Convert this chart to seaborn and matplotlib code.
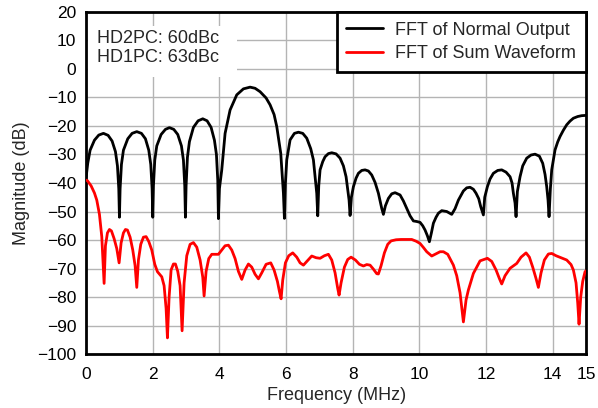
import seaborn as sns
import matplotlib.pyplot as plt
import pandas as pd
from matplotlib.patches import Rectangle

# ---------- DATA ----------
normal_freq = [0.00, 0.05, 0.12, 0.25, 0.38, 0.52, 0.66, 0.78, 0.88, 0.94, 0.98, 1.00,
               1.02, 1.06, 1.12, 1.25, 1.38, 1.52, 1.66, 1.78, 1.88, 1.94, 1.98, 2.00,
               2.02, 2.06, 2.12, 2.25, 2.38, 2.50, 2.63, 2.75, 2.86, 2.92, 2.96, 2.98,
               3.00, 3.04, 3.10, 3.22, 3.36, 3.50, 3.63, 3.75, 3.85, 3.91, 3.95, 3.97,
               4.00, 4.07, 4.17, 4.32, 4.52, 4.72, 4.92, 5.07, 5.22, 5.40, 5.52, 5.64,
               5.72, 5.84, 5.92, 5.95,
               5.98, 6.02, 6.12, 6.25, 6.37, 6.50, 6.62, 6.74, 6.82, 6.92, 6.95,
               6.98, 7.02, 7.10, 7.17, 7.27, 7.37, 7.50, 7.62, 7.72, 7.80, 7.89, 7.92,
               7.96, 8.02, 8.10, 8.17, 8.27, 8.37, 8.47, 8.57, 8.67, 8.77, 8.87, 8.92,
               8.98, 9.07, 9.17, 9.27, 9.42, 9.52, 9.62, 9.72, 9.82,
               9.92, 10.02, 10.10, 10.17, 10.24, 10.30, 10.36, 10.42, 10.50, 10.57,
               10.67, 10.82, 10.97, 11.07, 11.17, 11.32, 11.42, 11.52, 11.62, 11.70,
               11.78, 11.84, 11.92,
               11.96, 12.04, 12.12, 12.22, 12.35, 12.47, 12.60, 12.72, 12.78, 12.82, 12.87, 12.90,
               12.94, 13.02, 13.10, 13.22, 13.35, 13.47, 13.60, 13.70, 13.77, 13.82, 13.86, 13.89,
               13.93, 13.97, 14.07, 14.15, 14.22, 14.32, 14.42, 14.52, 14.62, 14.75, 14.87, 15.00]
normal_db = [-38.0, -33.0, -28.5, -25.0, -23.2, -22.6, -23.3, -25.3, -29.0, -34.0, -42.0, -52.0,
             -42.0, -33.5, -28.5, -24.5, -22.6, -22.0, -22.6, -24.5, -28.5, -33.5, -42.0, -52.0,
             -41.0, -32.0, -27.0, -23.0, -21.2, -20.6, -21.2, -23.0, -27.0, -32.0, -41.0, -52.0,
             -41.0, -31.0, -25.5, -20.5, -18.2, -17.5, -18.2, -20.5, -25.0, -30.0, -39.0, -52.5,
             -42.0, -35.4, -22.6, -14.4, -9.1, -7.0, -6.4, -6.8, -8.0, -10.2, -12.6, -16.0,
             -20.2, -29.6, -43.6, -52.4,
             -40.0, -31.9, -24.9, -22.6, -22.2, -22.6, -24.3, -28.0, -31.9, -43.6, -51.5,
             -41.0, -35.4, -32.5, -30.8, -29.7, -29.4, -29.8, -31.3, -34.0, -37.8, -46.0, -51.4,
             -45.0, -41.3, -38.3, -36.6, -35.6, -35.4, -35.8, -37.2, -39.8, -43.6, -48.9, -51.0,
             -48.0, -45.4, -43.8, -43.4, -44.2, -46.3, -48.9, -51.5, -53.3,
             -53.5, -53.8, -55.0, -56.5, -58.5, -60.6, -57.5, -54.1, -52.0, -50.6,
             -49.7, -50.0, -51.0, -49.0, -46.0, -42.8, -41.7, -41.5, -42.2, -43.6,
             -45.5, -48.3, -51.2,
             -45.0, -41.3, -38.6, -36.6, -35.6, -35.4, -36.2, -37.8, -40.0, -43.6, -47.0, -51.8,
             -43.0, -37.8, -34.0, -31.3, -30.2, -29.9, -30.6, -33.1, -37.0, -41.3, -46.0, -51.8,
             -42.0, -35.4, -28.4, -25.6, -23.7, -21.5, -19.6, -18.3, -17.3, -16.7, -16.4, -16.3]

sum_freq = [0.00, 0.04, 0.15, 0.25, 0.32, 0.40, 0.47, 0.54, 0.58, 0.64, 0.70, 0.76,
            0.84, 0.92, 0.99, 1.05, 1.12, 1.18, 1.24, 1.32, 1.40, 1.47, 1.52, 1.57,
            1.64, 1.72, 1.80, 1.88, 1.97, 2.06, 2.14, 2.27, 2.34, 2.40, 2.44, 2.49,
            2.55, 2.62, 2.68, 2.75, 2.82, 2.88, 2.94, 3.02, 3.12, 3.22, 3.32, 3.42,
            3.50, 3.54, 3.60, 3.68, 3.77, 3.87, 3.97, 4.07, 4.17, 4.27, 4.37, 4.47,
            4.57, 4.67, 4.77, 4.87, 4.97, 5.07, 5.17, 5.27, 5.40, 5.54, 5.64, 5.74,
            5.80, 5.85, 5.90, 5.98, 6.08, 6.20, 6.32, 6.42, 6.52, 6.62, 6.77, 6.90,
            7.02, 7.15, 7.27, 7.37, 7.47, 7.55, 7.59, 7.65, 7.75, 7.85, 7.95, 8.08,
            8.20, 8.32, 8.42, 8.52, 8.62, 8.72, 8.77, 8.85, 8.95, 9.05, 9.15, 9.30,
            9.45, 9.62, 9.77, 9.90, 10.02, 10.12, 10.22, 10.37, 10.50, 10.62, 10.72, 10.85,
            11.02, 11.12, 11.22, 11.32, 11.40, 11.47, 11.62, 11.82, 12.04, 12.17, 12.30, 12.40,
            12.47, 12.57, 12.72, 12.92, 13.05, 13.20, 13.30, 13.40, 13.50, 13.57, 13.65, 13.75,
            13.87, 13.97, 14.10, 14.25, 14.42, 14.55, 14.62, 14.70, 14.75, 14.79, 14.84, 14.90,
            14.97, 15.00]
sum_db = [-39.0, -39.2, -41.0, -43.5, -46.0, -51.0, -58.8, -75.2, -62.0, -57.5, -56.3, -56.8,
          -59.5, -63.0, -68.0, -61.0, -57.5, -56.3, -56.5, -59.0, -63.5, -69.0, -76.6, -67.0,
          -61.5, -59.0, -58.8, -60.5, -63.5, -68.5, -71.1, -72.9, -76.0, -84.0, -94.3, -80.0,
          -70.5, -68.4, -68.4, -71.0, -76.0, -91.8, -75.0, -65.5, -61.5, -60.9, -62.5, -67.0,
          -73.0, -79.6, -71.0, -66.5, -65.0, -65.0, -65.0, -63.5, -62.0, -61.8, -63.5, -66.5,
          -71.0, -73.8, -70.5, -68.4, -69.5, -72.0, -73.6, -71.5, -68.5, -68.0, -70.5, -74.5,
          -78.0, -80.6, -74.0, -68.0, -65.5, -64.5, -66.0, -68.0, -68.8, -67.5, -65.6, -66.2,
          -66.4, -65.5, -65.0, -67.0, -71.5, -77.0, -79.3, -75.0, -69.5, -66.8, -66.0, -67.0,
          -68.5, -69.1, -68.6, -68.8, -70.2, -71.8, -71.9, -69.0, -64.5, -61.5, -60.3, -59.9,
          -59.8, -59.8, -59.8, -60.4, -61.2, -62.6, -64.1, -65.6, -64.8, -64.1, -64.1, -65.0,
          -68.8, -72.5, -78.5, -88.7, -81.0, -77.5, -71.7, -67.3, -66.4, -67.5, -70.5, -73.5,
          -75.4, -72.5, -69.9, -68.2, -66.0, -64.5, -66.0, -69.5, -73.5, -76.6, -71.5, -67.0,
          -64.9, -64.7, -65.5, -66.2, -67.0, -68.6, -70.5, -75.0, -82.0, -89.5, -80.0, -74.5,
          -71.1, -70.8]

series_names = ["FFT of Normal Output", "FFT of Sum Waveform"]
x_ticks = [0, 2, 4, 6, 8, 10, 12, 14, 15]
y_ticks = list(range(-100, 21, 10))
note_lines = ["HD2PC: 60dBc", "HD1PC: 63dBc"]

df = pd.concat([
    pd.DataFrame({"freq": normal_freq, "db": normal_db, "series": series_names[0]}),
    pd.DataFrame({"freq": sum_freq, "db": sum_db, "series": series_names[1]}),
])

# ---------- PLOT ----------
sns.set_style("white")
plt.rcParams["font.family"] = ["Liberation Sans", "DejaVu Sans"]

fig, ax = plt.subplots(figsize=(5.98, 4.08), dpi=100)
fig.subplots_adjust(left=0.144, right=0.98, top=0.971, bottom=0.132)

sns.lineplot(data=df, x="freq", y="db", hue="series", estimator=None, sort=False,
             palette=["black", "#ff0000"], linewidth=2.0, ax=ax, zorder=3)

ax.set_xlim(0, 15)
ax.set_ylim(-100, 20)
ax.set_xticks(x_ticks)
ax.set_yticks(y_ticks)
ax.grid(True, color="#b4b4b4", linewidth=1.0)
ax.set_axisbelow(True)

for sp in ax.spines.values():
    sp.set_linewidth(2.0)
    sp.set_color("black")
ax.tick_params(axis="both", direction="out", length=3, width=1, labelsize=12.5, colors="black")
ax.tick_params(axis="x", pad=6)
ax.tick_params(axis="y", pad=4)

ax.set_xlabel("Frequency (MHz)", fontsize=13, labelpad=4)
ax.set_ylabel("Magnitude (dB)", fontsize=13, labelpad=5)

# white patch behind the note
ax.add_patch(Rectangle((0.004, 0.81), 0.298, 0.15, transform=ax.transAxes,
                       facecolor="white", edgecolor="none", zorder=1))
ax.text(0.022, 0.948, "\n".join(note_lines), transform=ax.transAxes, fontsize=13,
        va="top", ha="left", linespacing=1.2, zorder=4)

leg = ax.legend(loc="upper right", bbox_to_anchor=(1.0, 1.0), borderaxespad=0,
                fontsize=13, frameon=True, fancybox=False, handlelength=2.0,
                labelspacing=0.34, borderpad=0.55, handletextpad=0.7)
leg.get_frame().set_edgecolor("black")
leg.get_frame().set_linewidth(2.0)
leg.get_frame().set_alpha(1)
leg.set_title(None)

plt.savefig("out.png", dpi=100)
